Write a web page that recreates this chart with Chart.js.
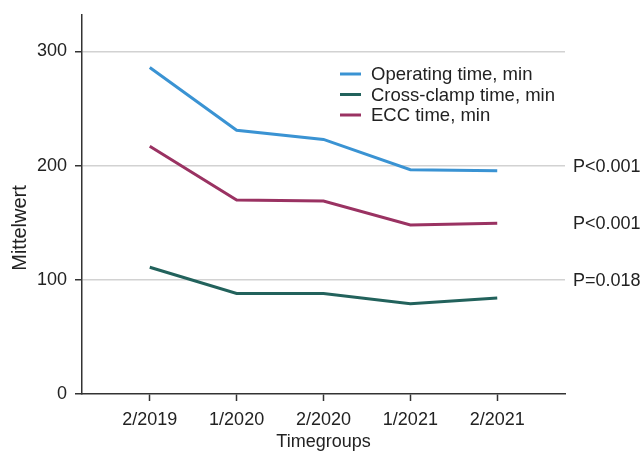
<!DOCTYPE html>
<html>
<head>
<meta charset="utf-8">
<script src="https://cdn.jsdelivr.net/npm/chart.js@4"></script>
<style>
  html, body { margin: 0; padding: 0; background: #fff; }
  #wrap { width: 644px; height: 453px; }
</style>
</head>
<body>
<div id="wrap"><canvas id="chart"></canvas></div>
<script>
// Data
const timegroups = ["2/2019", "1/2020", "2/2020", "1/2021", "2/2021"];
const operatingTime = [286, 231, 223, 196.5, 195.5];
const crossClampTime = [111, 88, 88, 79, 84];
const eccTime = [217, 170, 169, 148, 149.5];
const yTicks = [0, 100, 200, 300];
const pLabels = ["P<0.001", "P<0.001", "P=0.018"];
const pLabelAt = [200, 150, 100];
const yTitle = "Mittelwert";

const FONT = "'Liberation Sans', Arial, Helvetica, sans-serif";
const FS = 18;
const TEXT = "#222";
const AXIS = "#333";

function toPoints(values) {
  return values.map((v, i) => ({ x: i, y: v }));
}

// Legend inside the plot, top right
const insideLegend = {
  id: "insideLegend",
  afterDraw(chart) {
    const ctx = chart.ctx;
    ctx.save();
    ctx.font = "18.5px " + FONT;
    ctx.textBaseline = "middle";
    chart.data.datasets.forEach((ds, i) => {
      const y = 74 + i * 20.5;
      ctx.strokeStyle = ds.borderColor;
      ctx.lineWidth = 3;
      ctx.beginPath();
      ctx.moveTo(340, y);
      ctx.lineTo(361, y);
      ctx.stroke();
      ctx.fillStyle = TEXT;
      ctx.fillText(ds.label, 371, y + 1);
    });
    ctx.restore();
  },
};

// P-values to the right of the plot, y-axis title a bit below centre
const extraText = {
  id: "extraText",
  afterDraw(chart) {
    const ctx = chart.ctx;
    const yScale = chart.scales.y;
    ctx.save();
    ctx.font = FS + "px " + FONT;
    ctx.textBaseline = "middle";
    ctx.fillStyle = TEXT;
    pLabels.forEach((txt, i) => {
      ctx.fillText(txt, chart.chartArea.right + 8, yScale.getPixelForValue(pLabelAt[i]) + 1);
    });
    ctx.translate(20, 228);
    ctx.rotate(-Math.PI / 2);
    ctx.font = "20px " + FONT;
    ctx.textAlign = "center";
    ctx.fillText(yTitle, 0, 0);
    ctx.restore();
  },
};

new Chart(document.getElementById("chart"), {
  type: "line",
  data: {
    datasets: [
      { label: "Operating time, min", data: toPoints(operatingTime), borderColor: "#3a93d3" },
      { label: "Cross-clamp time, min", data: toPoints(crossClampTime), borderColor: "#22625c" },
      { label: "ECC time, min", data: toPoints(eccTime), borderColor: "#9a3262" },
    ],
  },
  options: {
    responsive: true,
    maintainAspectRatio: false,
    animation: false,
    layout: { padding: { top: 15, right: 79, bottom: 0, left: 0 } },
    elements: {
      line: { borderWidth: 3, tension: 0 },
      point: { radius: 0 },
    },
    plugins: {
      legend: { display: false },
      tooltip: { enabled: false },
    },
    scales: {
      x: {
        type: "linear",
        min: -0.78,
        max: 4.78,
        afterBuildTicks: (scale) => {
          scale.ticks = timegroups.map((c, i) => ({ value: i }));
        },
        afterFit: (scale) => {
          scale.height = 59;
          scale.paddingLeft = 0;
          scale.paddingRight = 0;
        },
        ticks: {
          callback: (v) => timegroups[v],
          color: TEXT,
          font: { family: FONT, size: FS },
          padding: 8,
          maxRotation: 0,
        },
        grid: {
          drawOnChartArea: false,
          tickLength: 7,
          tickColor: AXIS,
          tickWidth: 1.5,
        },
        border: { color: AXIS, width: 1.5 },
        title: {
          display: true,
          text: "Timegroups",
          color: TEXT,
          font: { family: FONT, size: FS },
          padding: { top: 0, bottom: 0 },
        },
      },
      y: {
        min: 0,
        max: 332,
        afterBuildTicks: (scale) => {
          scale.ticks = yTicks.map((v) => ({ value: v }));
        },
        afterFit: (scale) => {
          scale.width = 82;
          scale.paddingTop = 0;
          scale.paddingBottom = 0;
        },
        ticks: {
          color: TEXT,
          font: { family: FONT, size: FS },
          padding: 8,
        },
        grid: {
          color: (c) => (c.tick && c.tick.value === 0 ? "rgba(0,0,0,0)" : "#d2d2d2"),
          lineWidth: 1.5,
          tickLength: 7,
          tickColor: AXIS,
          tickWidth: 1.5,
        },
        border: { color: AXIS, width: 1.5 },
      },
    },
  },
  plugins: [insideLegend, extraText],
});
</script>
</body>
</html>
